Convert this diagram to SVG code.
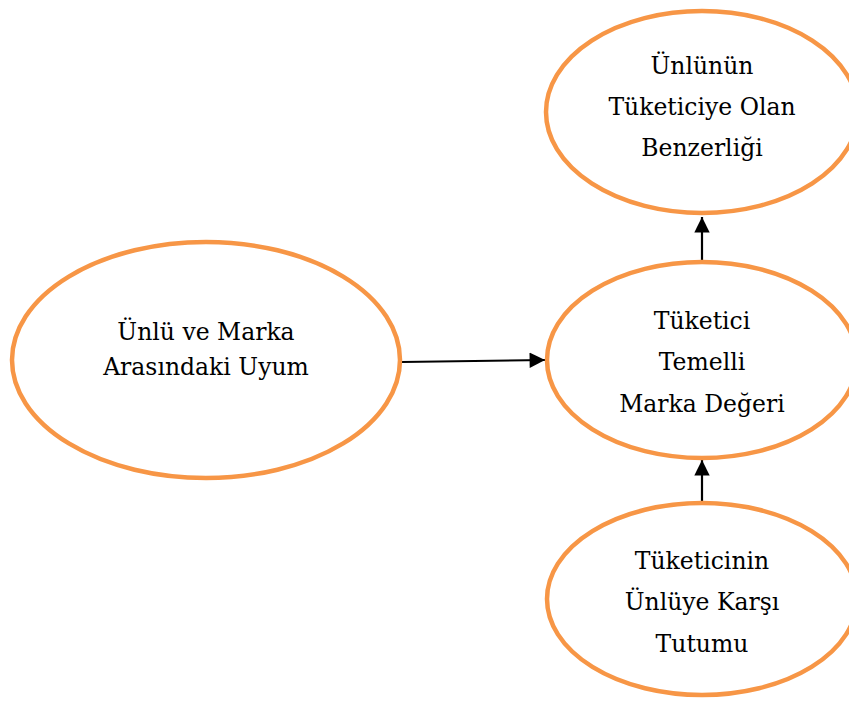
<svg xmlns="http://www.w3.org/2000/svg" width="849" height="702" viewBox="0 0 849 702">
<style>
.node ellipse{fill:#fff;stroke:#F79646;stroke-width:4.5}
.node text{font-family:"DejaVu Serif","Liberation Serif",serif;font-size:23.5px;fill:#000;text-anchor:middle}
.conn line{stroke:#000;stroke-width:2.2}
</style>
<defs>
<marker id="arr" viewBox="0 0 10 10" refX="10" refY="5" markerWidth="7.5" markerHeight="7" markerUnits="strokeWidth" orient="auto">
<path d="M0,0 L10,5 L0,10 z" fill="#000"/>
</marker>
</defs>
<rect width="849" height="702" fill="#fff"/>
<g class="conn" id="connectors">
<line x1="402" y1="362" x2="545" y2="360" marker-end="url(#arr)"/>
<line x1="702" y1="262" x2="702" y2="217" marker-end="url(#arr)"/>
<line x1="702" y1="502" x2="702" y2="460" marker-end="url(#arr)"/>
</g>
<g class="node" id="n-benzerlik">
<ellipse cx="702" cy="112" rx="156" ry="101"/>
<text x="702" y="74">Ünlünün</text>
<text x="702" y="115">Tüketiciye Olan</text>
<text x="702" y="156">Benzerliği</text>
</g>
<g class="node" id="n-uyum">
<ellipse cx="206" cy="360" rx="194" ry="118"/>
<text x="206" y="340">Ünlü ve Marka</text>
<text x="206" y="375">Arasındaki Uyum</text>
</g>
<g class="node" id="n-deger">
<ellipse cx="702" cy="360" rx="155" ry="98"/>
<text x="702" y="329">Tüketici</text>
<text x="702" y="370">Temelli</text>
<text x="702" y="412">Marka Değeri</text>
</g>
<g class="node" id="n-tutum">
<ellipse cx="702" cy="599" rx="155" ry="96"/>
<text x="702" y="569">Tüketicinin</text>
<text x="702" y="610">Ünlüye Karşı</text>
<text x="702" y="652">Tutumu</text>
</g>
</svg>
